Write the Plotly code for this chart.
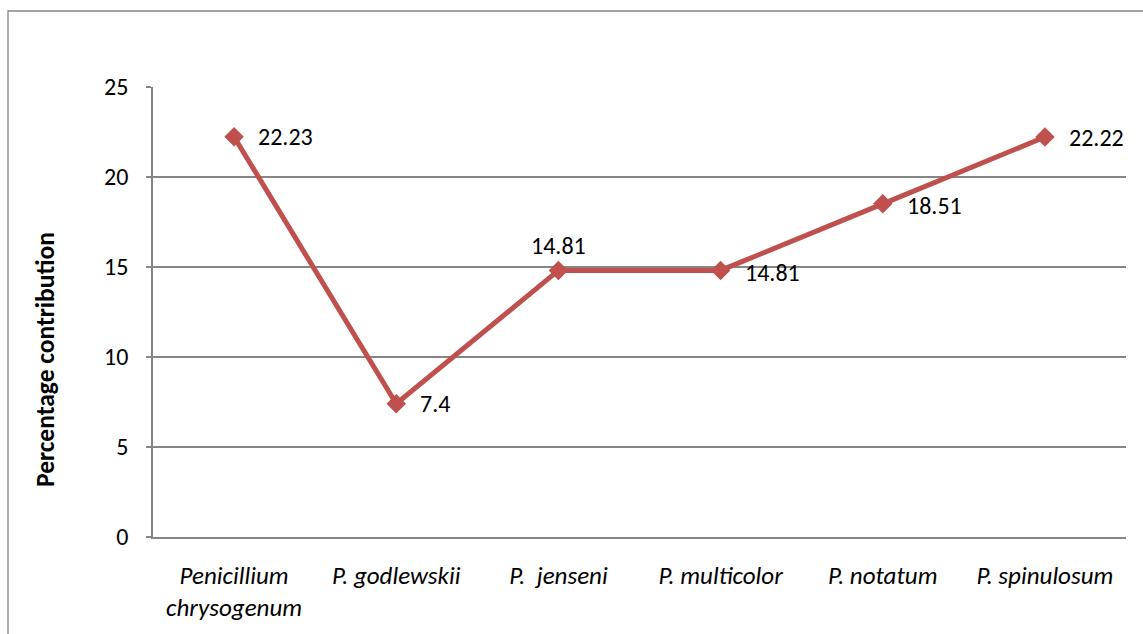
import plotly.graph_objects as go

# Species and their percentage contribution
species = [
    "Penicillium<br>chrysogenum",
    "P. godlewskii",
    "P.\u00a0 jenseni",
    "P. multicolor",
    "P. notatum",
    "P. spinulosum",
]
contribution = [22.23, 7.4, 14.81, 14.81, 18.51, 22.22]
y_ticks = [0, 5, 10, 15, 20, 25]

FONT = "Carlito, Calibri, Lato, sans-serif"
GRID = "#868686"
LINE = "#C0504D"

fig = go.Figure()
fig.add_trace(
    go.Scatter(
        x=species,
        y=contribution,
        mode="lines+markers",
        line=dict(color=LINE, width=5),
        marker=dict(symbol="diamond", size=15, color=LINE),
        showlegend=False,
        hoverinfo="skip",
    )
)

# Value labels: right of each point, except P. jenseni which sits above
for i, (cat, val) in enumerate(zip(species, contribution)):
    if i == 2:
        fig.add_annotation(x=cat, y=val, text=str(val), showarrow=False,
                           xanchor="center", yanchor="middle", yshift=25,
                           font=dict(family=FONT, size=24, color="black"))
    else:
        fig.add_annotation(x=cat, y=val, text=str(val), showarrow=False,
                           xanchor="left", yanchor="middle", xshift=22,
                           yshift=-2 if i in (3, 4) else 0,
                           font=dict(family=FONT, size=24, color="black"))

# Y-axis title, centred on the chart area rather than the plot area
fig.add_annotation(xref="paper", yref="paper",
                   x=(45 - 153) / 973, y=(537 - 360) / 450,
                   text="<b>Percentage contribution</b>", textangle=-90,
                   showarrow=False, xanchor="center", yanchor="middle",
                   font=dict(family=FONT, size=25.5, color="black"))

# Outer chart frame
fig.add_shape(type="rect", xref="paper", yref="paper",
              x0=(8 - 153) / 973, x1=1.2, y0=-0.5, y1=(537 - 11) / 450,
              line=dict(color=GRID, width=1.3), fillcolor="rgba(0,0,0,0)",
              layer="below")

fig.update_layout(
    width=1143,
    height=634,
    margin=dict(l=153, r=17, t=87, b=97),
    paper_bgcolor="white",
    plot_bgcolor="white",
    font=dict(family=FONT, color="black"),
    xaxis=dict(
        type="category",
        showline=True,
        linecolor=GRID,
        linewidth=1.5,
        showgrid=False,
        ticks="",
        ticklabelstandoff=15,
        tickfont=dict(family=FONT, size=25, style="italic"),
        range=[-0.5, 5.5],
        fixedrange=True,
    ),
    yaxis=dict(
        range=[0, 25],
        tickvals=y_ticks,
        showline=True,
        linecolor=GRID,
        linewidth=1.5,
        showgrid=True,
        gridcolor=GRID,
        gridwidth=1.5,
        zeroline=False,
        ticks="outside",
        ticklen=5,
        tickcolor=GRID,
        tickwidth=1.5,
        ticklabelstandoff=13,
        tickfont=dict(family=FONT, size=24),
        fixedrange=True,
    ),
)

fig.write_html("out.html")
